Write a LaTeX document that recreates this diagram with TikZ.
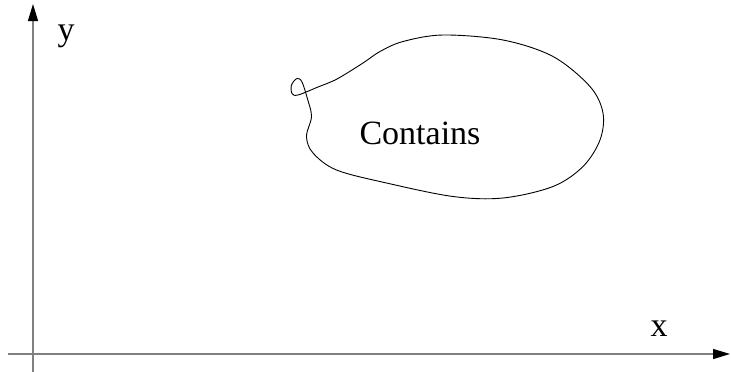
\documentclass[tikz,border=0pt]{standalone}
\usepackage{fontspec}
\setmainfont{Liberation Serif}
\usepackage{tikz}
\usetikzlibrary{arrows.meta}

\tikzset{
  axis/.style={gray,line width=1.3pt,-{Triangle[length=17pt,width=10pt,black]}},
  lbl/.style={font=\fontsize{34}{40}\selectfont,inner sep=0pt},
}

\begin{document}
\begin{tikzpicture}[x=1pt,y=-1pt]
  \useasboundingbox (0,0) rectangle (731,372);
  % axes
  \coordinate (ybot) at (33,372);
  \coordinate (ytop) at (33,4);
  \coordinate (xleft) at (8,354);
  \coordinate (xright) at (730,354);
  \draw[axis] (ybot) -- (ytop);
  \draw[axis] (xleft) -- (xright);
  \node[lbl] (ylab) at (66,36) {y};
  \node[lbl] (xlab) at (659,329) {x};
  % the region
  \draw[black,line width=0.9pt] plot[smooth cycle,tension=0.55] coordinates {
    (318,87) (337,79) (363,63) (380,51.5) (403,41.5) (443,35) (503,40)
    (553,56.5) (590,86.5) (603,113) (600,140) (583,166.5) (553,186.5)
    (503,198) (453,196.5) (386.5,183) (336.5,170) (313,153) (306.5,136.5)
    (311.5,116.5) (307.5,99) (302,82) (297,78.5) (291.5,85) (292,93.5) (298,95)};
  \node[lbl] (cont) at (420,133) {Contains};
\end{tikzpicture}
\end{document}
